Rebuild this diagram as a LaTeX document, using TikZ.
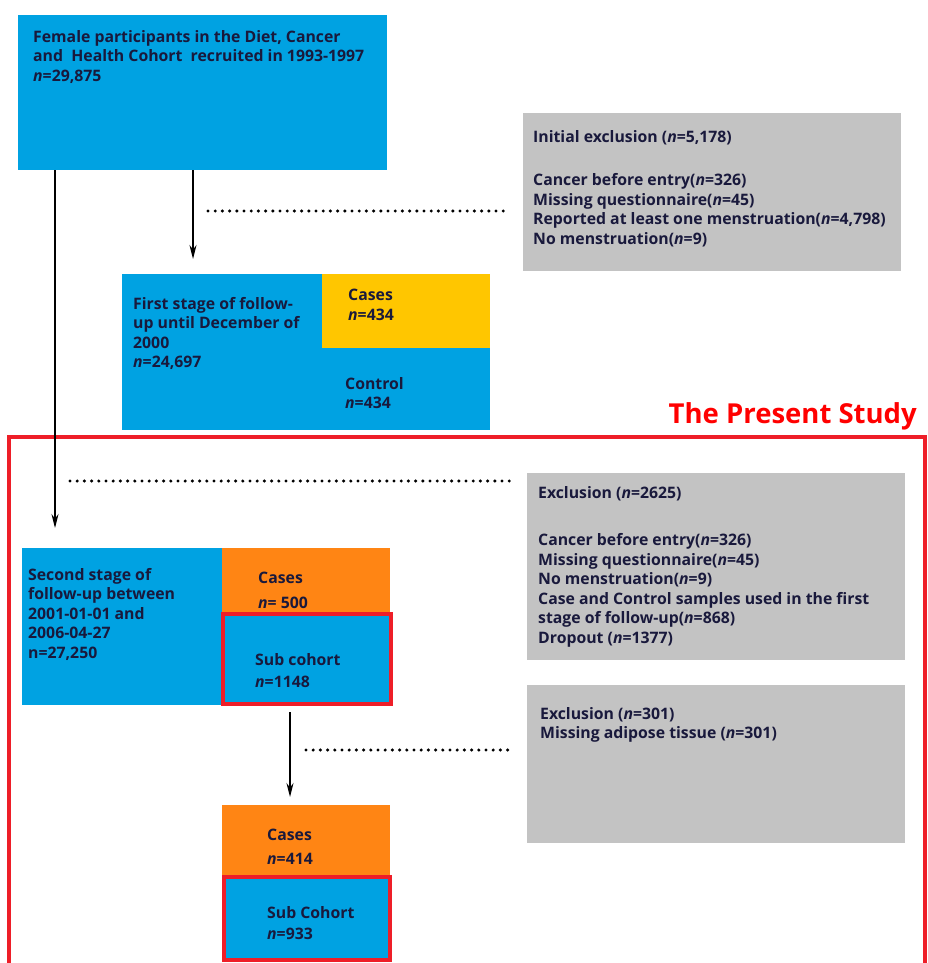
\documentclass[tikz,border=0pt]{standalone}
\usepackage{fontspec}
\setmainfont{Open Sans}
\usetikzlibrary{arrows.meta}

\definecolor{blu}{RGB}{0,162,226}
\definecolor{giallo}{RGB}{255,198,0}
\definecolor{arancio}{RGB}{255,133,20}
\definecolor{grigio}{RGB}{195,195,195}
\definecolor{rosso}{RGB}{238,30,40}
\definecolor{testo}{RGB}{25,25,60}

\tikzset{
	box/.style={anchor=north west, inner sep=0pt, outer sep=0pt},
	txt/.style={anchor=north west, inner sep=0pt, align=left, text=testo,
		font=\fontsize{15.8}{19.5}\selectfont\bfseries},
	freccia/.style={line width=1.3pt, -{Stealth[length=14pt,width=7pt]}},
	dotline/.style={line width=3.4pt, line cap=round, dash pattern=on 0pt off 7.2pt},
	cornice/.style={draw=rosso, line width=4.5pt},
}

\begin{document}
\begin{tikzpicture}[x=1pt, y=-1pt]
		\useasboundingbox (0, 0) rectangle (927, 963);
		\clip (0, 0) rectangle (927, 963);

		% caselle
		\node[box, fill=blu, minimum width=369, minimum height=155] (coorte) at (18, 15) {};
		\node[box, fill=grigio, minimum width=378, minimum height=158] (escl1) at (523, 113) {};
		\node[box, fill=blu, minimum width=368, minimum height=156] (stadio1) at (122, 274) {};
		\node[box, fill=giallo, minimum width=168, minimum height=74] (casi1) at (322, 274) {};
		\node[box, fill=grigio, minimum width=378, minimum height=187] (escl2) at (527, 473) {};
		\node[box, fill=blu, minimum width=200, minimum height=157] (stadio2) at (22, 548) {};
		\node[box, fill=arancio, minimum width=168, minimum height=70] (casi2) at (222, 548) {};
		\node[box, fill=blu, cornice, minimum width=168, minimum height=90] (sub1) at (223, 614) {};
		\node[box, fill=grigio, minimum width=378, minimum height=158] (escl3) at (527, 685) {};
		\node[box, fill=arancio, minimum width=168, minimum height=72] (casi3) at (222, 805) {};
		\node[box, fill=blu, cornice, minimum width=166, minimum height=83] (sub2) at (224, 877) {};

		% testi
		\node[txt] (coorte-t) at (33, 30) {Female participants in the Diet, Cancer\\and\ \ Health Cohort\ \ recruited in 1993-1997\\\textit{n}=29,875};
		\node[txt] (escl1-t) at (533, 130) {Initial exclusion (\textit{n}=5,178)\\[24pt]Cancer before entry(\textit{n}=326)\\Missing questionnaire(\textit{n}=45)\\Reported at least one menstruation(\textit{n}=4,798)\\No menstruation(\textit{n}=9)};
		\node[txt] (stadio1-t) at (133, 297) {First stage of follow-\\up until December of\\2000\\\textit{n}=24,697};
		\node[txt] (casi1-t) at (348, 289) {Cases\\\textit{n}=434};
		\node[txt] (contr-t) at (345, 377) {Control\\\textit{n}=434};
		\node[txt] (escl2-t) at (538, 486) {Exclusion (\textit{n}=2625)\\[28pt]Cancer before entry(\textit{n}=326)\\Missing questionnaire(\textit{n}=45)\\No menstruation(\textit{n}=9)\\Case and Control samples used in the first\\stage of follow-up(\textit{n}=868)\\Dropout\ (\textit{n}=1377)};
		\node[txt] (stadio2-t) at (28, 568) {Second stage of\\follow-up between\\2001-01-01 and\\2006-04-27\\n=27,250};
		\node[txt] (casi2-t) at (258, 572) {Cases\\[5pt]\textit{n}= 500};
		\node[txt] (sub1-t) at (255, 653) {Sub cohort\\[3pt]\textit{n}=1148};
		\node[txt] (escl3-t) at (540, 707) {Exclusion (\textit{n}=301)\\Missing adipose tissue (\textit{n}=301)};
		\node[txt] (casi3-t) at (267, 829) {Cases\\[4pt]\textit{n}=414};
		\node[txt] (sub2-t) at (267, 906) {Sub Cohort\\[2pt]\textit{n}=933};

		% lo studio
		\draw[rosso, line width=3.5pt] (9, 980) -- (9, 437) -- (925, 437) -- (925, 980);
		\node[anchor=base east, inner sep=0pt, text=red, font=\fontsize{27.5}{30}\selectfont\bfseries] (studio) at (917, 423) {The Present Study};

		% frecce
		\coordinate (f1a) at (55, 170);
		\coordinate (f1b) at (55, 528);
		\coordinate (f2a) at (193, 170);
		\coordinate (f2b) at (193, 259);
		\coordinate (f3a) at (290, 712);
		\coordinate (f3b) at (290, 797);
		\draw[freccia] (f1a) -- (f1b);
		\draw[freccia] (f2a) -- (f2b);
		\draw[freccia] (f3a) -- (f3b);

		% puntini
		\coordinate (d1a) at (208, 211);
		\coordinate (d1b) at (510, 211);
		\coordinate (d2a) at (70, 481);
		\coordinate (d2b) at (512, 481);
		\coordinate (d3a) at (306, 750);
		\coordinate (d3b) at (512, 750);
		\draw[dotline] (d1a) -- (d1b);
		\draw[dotline] (d2a) -- (d2b);
		\draw[dotline] (d3a) -- (d3b);
	\end{tikzpicture}
\end{document}
